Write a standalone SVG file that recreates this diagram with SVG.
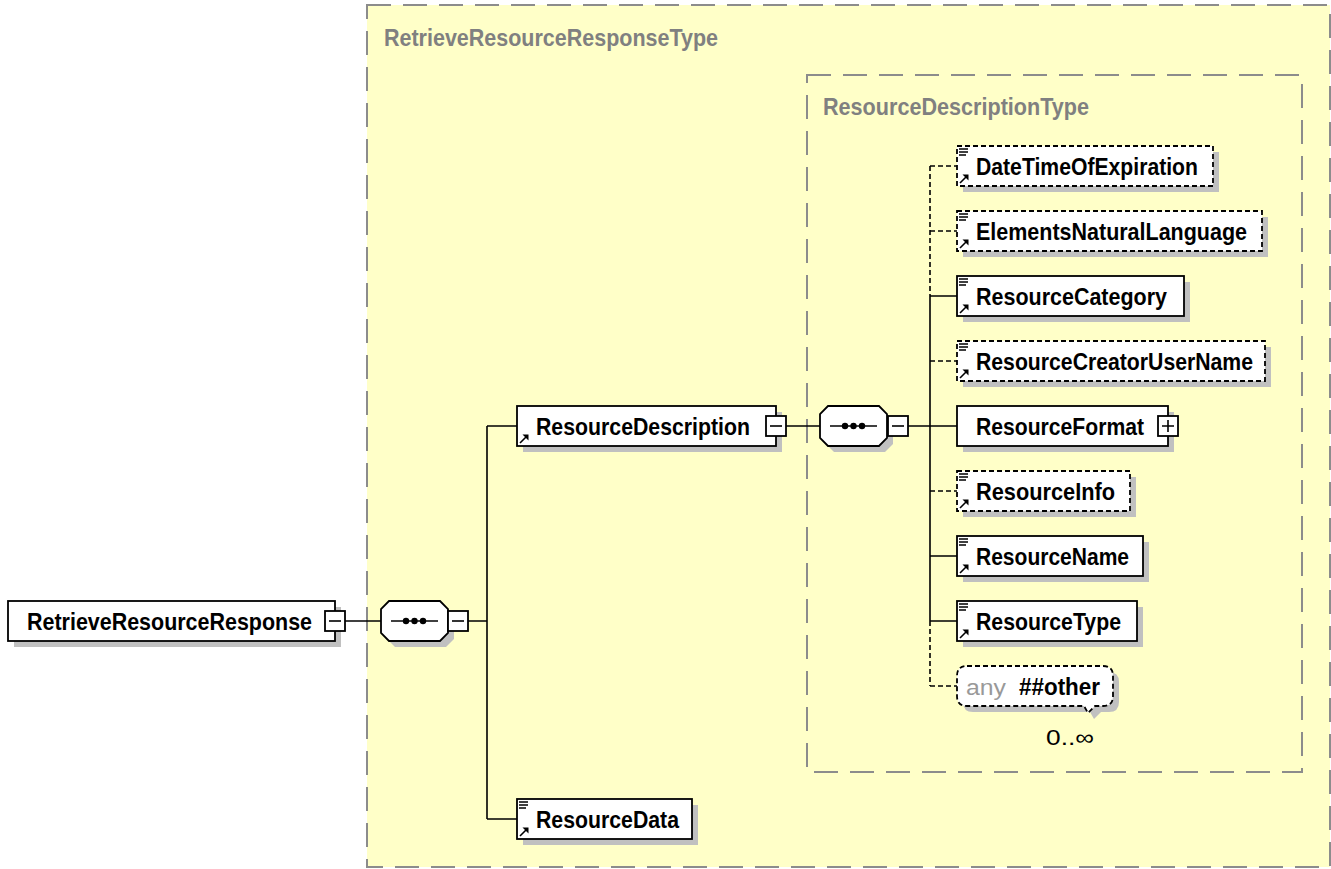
<svg xmlns="http://www.w3.org/2000/svg" width="1331" height="869" viewBox="0 0 1331 869">
<style>
.bg{fill:#fff}
.frame{fill:#FFFFC8;stroke:#8C8C8C;stroke-width:2;stroke-dasharray:24 12}
.frame2{fill:none;stroke:#8C8C8C;stroke-width:2;stroke-dasharray:24 12}
.ttl{font-family:"Liberation Sans",Arial,sans-serif;font-weight:bold;font-size:24px;fill:#808080}
.box{fill:#fff;stroke:#000;stroke-width:1.8}
.opt{stroke-dasharray:5 3}
.sh{fill:#C0C0C0}
.t{font-family:"Liberation Sans",Arial,sans-serif;font-weight:bold;font-size:24px;fill:#000}
.any{font-family:"Liberation Sans",Arial,sans-serif;font-size:22px;fill:#999}
.occ{font-family:"Liberation Sans",Arial,sans-serif;font-size:22px;fill:#000}
.c{stroke:#000;stroke-width:1.6;fill:none}
.d{stroke-dasharray:5 3}
.ic{stroke:#000;stroke-width:1.6;fill:none}
</style>
<defs>
<g id="lines"><path class="ic" d="M2 3H11M2 6H11M2 9H9"/></g>
<g id="arrow"><path class="ic" d="M3 37L9 31"/><path d="M5.5 28.5L11.5 28.5L11.5 34.5Z" fill="#000"/></g>
<g id="minus"><rect x="0" y="0" width="20" height="20" class="box"/><path class="c" d="M4 10H16"/></g>
<g id="plus"><rect x="0" y="0" width="20" height="20" class="box"/><path class="c" d="M4 10H16M10 4V16"/></g>
<g id="seq">
<path class="sh" d="M14 6H65L73 14V38L65 46H14L6 38V14Z"/>
<path class="box" d="M8 0H59L67 8V32L59 40H8L0 32V8Z"/>
<path class="c" d="M10 20H57"/>
<circle cx="25" cy="20" r="3.2"/><circle cx="33.5" cy="20" r="3.2"/><circle cx="42" cy="20" r="3.2"/>
</g>
</defs>
<rect class="bg" x="0" y="0" width="1331" height="869"/>
<rect class="frame" x="367" y="5" width="963" height="862"/>
<text class="ttl" x="384" y="46" textLength="334" lengthAdjust="spacingAndGlyphs">RetrieveResourceResponseType</text>
<rect class="frame2" x="807" y="75" width="495" height="697"/>
<text class="ttl" x="823" y="115" textLength="266" lengthAdjust="spacingAndGlyphs">ResourceDescriptionType</text>

<g id="connectors">
<path class="c" d="M345 621H381"/>
<path class="c" d="M468 621H487M487 426V819M487 426H517M487 819H517"/>
<path class="c" d="M786 426H820"/>
<path class="c" d="M908 426H930M930 296V621"/>
<path class="c d" d="M930 166V296M930 621V686"/>
<path class="c d" d="M930 166H957M930 231H957M930 361H957M930 491H957M930 686H957"/>
<path class="c" d="M930 296H957M930 426H957M930 556H957M930 621H957"/>
</g>

<g id="RetrieveResourceResponse">
<rect class="sh" x="14" y="607" width="327" height="40"/>
<rect class="box" x="8" y="601" width="327" height="40"/>
<text class="t" x="27" y="630" textLength="285" lengthAdjust="spacingAndGlyphs">RetrieveResourceResponse</text>
<use href="#minus" x="325" y="611"/>
</g>

<g id="seq1"><use href="#seq" x="381" y="601"/><use href="#minus" x="448" y="611"/></g>

<g id="ResourceDescription">
<rect class="sh" x="523" y="412" width="259" height="40"/>
<rect class="box" x="517" y="406" width="259" height="40"/>
<use href="#arrow" x="517" y="406"/>
<text class="t" x="536" y="435" textLength="214" lengthAdjust="spacingAndGlyphs">ResourceDescription</text>
<use href="#minus" x="766" y="416"/>
</g>

<g id="ResourceData">
<rect class="sh" x="523" y="805" width="175" height="40"/>
<rect class="box" x="517" y="799" width="175" height="40"/>
<use href="#lines" x="517" y="799"/><use href="#arrow" x="517" y="799"/>
<text class="t" x="536" y="828" textLength="143" lengthAdjust="spacingAndGlyphs">ResourceData</text>
</g>

<g id="seq2"><use href="#seq" x="820" y="406"/><use href="#minus" x="888" y="416"/></g>

<g id="DateTimeOfExpiration">
<rect class="sh" x="963" y="152" width="256" height="40"/>
<rect class="box opt" x="957" y="146" width="256" height="40"/>
<use href="#lines" x="957" y="146"/><use href="#arrow" x="957" y="146"/>
<text class="t" x="976" y="175" textLength="222" lengthAdjust="spacingAndGlyphs">DateTimeOfExpiration</text>
</g>

<g id="ElementsNaturalLanguage">
<rect class="sh" x="963" y="217" width="305" height="40"/>
<rect class="box opt" x="957" y="211" width="305" height="40"/>
<use href="#lines" x="957" y="211"/><use href="#arrow" x="957" y="211"/>
<text class="t" x="976" y="240" textLength="271" lengthAdjust="spacingAndGlyphs">ElementsNaturalLanguage</text>
</g>

<g id="ResourceCategory">
<rect class="sh" x="963" y="282" width="227" height="40"/>
<rect class="box" x="957" y="276" width="227" height="40"/>
<use href="#lines" x="957" y="276"/><use href="#arrow" x="957" y="276"/>
<text class="t" x="976" y="305" textLength="191" lengthAdjust="spacingAndGlyphs">ResourceCategory</text>
</g>

<g id="ResourceCreatorUserName">
<rect class="sh" x="963" y="347" width="308" height="40"/>
<rect class="box opt" x="957" y="341" width="308" height="40"/>
<use href="#lines" x="957" y="341"/><use href="#arrow" x="957" y="341"/>
<text class="t" x="976" y="370" textLength="277" lengthAdjust="spacingAndGlyphs">ResourceCreatorUserName</text>
</g>

<g id="ResourceFormat">
<rect class="sh" x="963" y="412" width="211" height="40"/>
<rect class="box" x="957" y="406" width="211" height="40"/>
<text class="t" x="976" y="435" textLength="168" lengthAdjust="spacingAndGlyphs">ResourceFormat</text>
<use href="#plus" x="1158" y="416"/>
</g>

<g id="ResourceInfo">
<rect class="sh" x="963" y="477" width="173" height="40"/>
<rect class="box opt" x="957" y="471" width="173" height="40"/>
<use href="#lines" x="957" y="471"/><use href="#arrow" x="957" y="471"/>
<text class="t" x="976" y="500" textLength="139" lengthAdjust="spacingAndGlyphs">ResourceInfo</text>
</g>

<g id="ResourceName">
<rect class="sh" x="963" y="542" width="186" height="40"/>
<rect class="box" x="957" y="536" width="186" height="40"/>
<use href="#lines" x="957" y="536"/><use href="#arrow" x="957" y="536"/>
<text class="t" x="976" y="565" textLength="153" lengthAdjust="spacingAndGlyphs">ResourceName</text>
</g>

<g id="ResourceType">
<rect class="sh" x="963" y="607" width="180" height="40"/>
<rect class="box" x="957" y="601" width="180" height="40"/>
<use href="#lines" x="957" y="601"/><use href="#arrow" x="957" y="601"/>
<text class="t" x="976" y="630" textLength="145" lengthAdjust="spacingAndGlyphs">ResourceType</text>
</g>

<g id="any">
<path class="sh" d="M973 672H1109Q1119 672 1119 682V702Q1119 712 1109 712H1101L1094 719L1090 712H973Q963 712 963 702V682Q963 672 973 672Z"/>
<path class="box opt" d="M967 666H1103Q1113 666 1113 676V696Q1113 706 1103 706H1095L1088 713L1084 706H967Q957 706 957 696V676Q957 666 967 666Z"/>
<text class="any" x="966" y="695" textLength="40" lengthAdjust="spacingAndGlyphs">any</text>
<text class="t" x="1019" y="695" textLength="81" lengthAdjust="spacingAndGlyphs">##other</text>
<text class="occ" x="1046" y="745" textLength="48" lengthAdjust="spacingAndGlyphs">0..∞</text>
</g>
</svg>
